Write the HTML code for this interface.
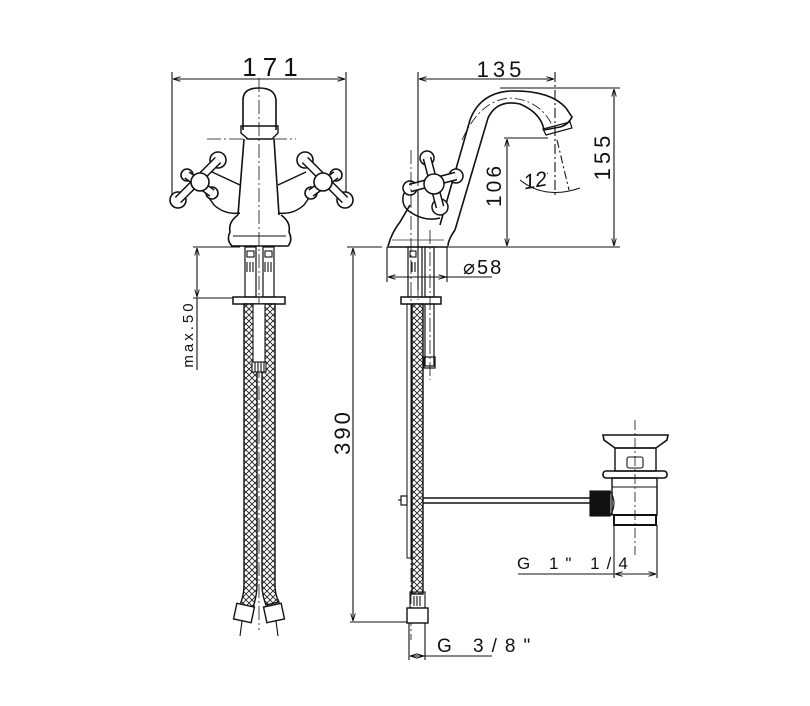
<!DOCTYPE html>
<html><head><meta charset="utf-8"><style>
html,body{margin:0;padding:0;background:#fff;}
svg{display:block;}
text{font-family:"Liberation Sans",sans-serif;fill:#111;}
</style></head><body>
<svg width="810" height="706" viewBox="0 0 810 706" xmlns="http://www.w3.org/2000/svg">
<defs>
<pattern id="br" width="6" height="6" patternUnits="userSpaceOnUse">
<rect width="6" height="6" fill="#fff"/>
<path d="M0 0L6 6M6 0L0 6" stroke="#222" stroke-width="0.9"/>
</pattern>
<marker id="a" viewBox="0 0 10 10" refX="10" refY="5" markerWidth="7" markerHeight="7" orient="auto-start-reverse"><path d="M0 2L10 5L0 8" fill="none" stroke="#111" stroke-width="1.2"/></marker>
<g id="crossL">
<g fill="#fff" stroke="#111" stroke-width="1.6">
<circle cx="18" cy="-22" r="8"/><circle cx="-22" cy="18" r="8"/>
<circle cx="-13" cy="-7" r="6"/><circle cx="12" cy="11" r="6"/>
</g>
<path d="M18 -22L-22 18M-13 -7L12 11" stroke="#111" stroke-width="9" fill="none"/>
<path d="M18 -22L-22 18M-13 -7L12 11" stroke="#fff" stroke-width="6" fill="none"/>
<circle cx="0" cy="0" r="9" fill="#fff" stroke="#111" stroke-width="1.6"/>
</g>
</defs>
<g fill="none" stroke="#111" stroke-width="1.1">
<!-- ===== LEFT VIEW ===== -->
<line x1="172" y1="72" x2="172" y2="200"/><line x1="346" y1="72" x2="346" y2="200"/>
<line x1="173" y1="79" x2="345" y2="79" marker-start="url(#a)" marker-end="url(#a)"/>
<line x1="259" y1="78" x2="259" y2="630" stroke-dasharray="14,3,2,3" stroke-width="0.8"/>
<line x1="207" y1="139" x2="296" y2="139" stroke-dasharray="14,3,2,3" stroke-width="0.8"/>
<path d="M243 130 L243 100 Q243 88 259 88 Q275 88 276 100 L276 130" stroke-width="1.6"/>
<path d="M241 126 L278 126 L278 133 L272 139 L248 139 L241 133 Z" stroke-width="1.4"/>
<path d="M244 139 L238 215 M274 139 L279 215" stroke-width="1.6"/>
<path d="M238 215 Q228 222 230 232 Q226 240 232 246 L288 246 Q293 240 289 232 Q291 222 281 215" stroke-width="1.6"/>
<line x1="233" y1="236" x2="286" y2="236"/>
<!-- handle arms -->
<path d="M240 185 L212 172 M214 205 Q225 215 240 213 M207 195 L214 205" stroke-width="1.5"/>
<path d="M278 185 L306 172 M304 205 Q293 215 278 213 M311 195 L304 205" stroke-width="1.5"/>
</g>
<use href="#crossL" transform="translate(200,182)"/>
<use href="#crossL" transform="translate(323,182) scale(-1,1)"/>
<g fill="none" stroke="#111" stroke-width="1.1">
<rect x="245" y="247" width="11" height="50" stroke-width="1.2"/>
<rect x="263" y="247" width="11" height="50" stroke-width="1.2"/>
<rect x="247" y="251" width="7" height="6"/><rect x="265" y="251" width="7" height="6"/>
<path d="M247 262v10M250 262v10M253 262v10M265 262v10M268 262v10M271 262v10"/>
<rect x="233" y="297" width="52" height="7" stroke-width="1.5"/>
<line x1="193" y1="247" x2="240" y2="247"/><line x1="193" y1="298" x2="233" y2="298"/>
<line x1="197" y1="248" x2="197" y2="297" marker-start="url(#a)" marker-end="url(#a)"/>
<line x1="197" y1="298" x2="197" y2="370"/>
<path d="M244 304 L244 585 Q244 595 240 605 L253 608 Q257 595 257 585 L257 304 Z" fill="url(#br)" stroke-width="1.4"/>
<path d="M262 304 L262 585 Q262 595 266 605 L279 602 Q275 595 275 585 L275 304 Z" fill="url(#br)" stroke-width="1.4"/>
<rect x="253" y="304" width="12" height="60" fill="#fff"/>
<rect x="252" y="362" width="14" height="10" fill="#fff"/>
<path d="M255 362v10M258 362v10M261 362v10M264 362v10"/>
<rect x="235" y="605" width="18" height="16" transform="rotate(12 244 613)" fill="#fff" stroke-width="1.4"/>
<rect x="265" y="605" width="18" height="16" transform="rotate(-12 274 613)" fill="#fff" stroke-width="1.4"/>
<line x1="242" y1="621" x2="240" y2="636"/><line x1="276" y1="621" x2="278" y2="636"/>

<!-- ===== RIGHT VIEW ===== -->
<line x1="418" y1="72" x2="418" y2="290"/><line x1="555" y1="72" x2="555" y2="195" stroke-dasharray="10,3,2,3"/>
<line x1="419" y1="79" x2="554" y2="79" marker-start="url(#a)" marker-end="url(#a)"/>
<line x1="500" y1="88" x2="620" y2="88"/>
<line x1="440" y1="247" x2="620" y2="247"/>
<line x1="614" y1="89" x2="614" y2="246" marker-start="url(#a)" marker-end="url(#a)"/>
<line x1="504" y1="138" x2="548" y2="138"/>
<line x1="507" y1="139" x2="507" y2="246" marker-start="url(#a)" marker-end="url(#a)"/>
<line x1="557" y1="140" x2="569" y2="190" stroke-dasharray="8,3,2,3"/>
<path d="M520 180 Q545 200 580 188" />
<path d="M440 225 L470 120 Q480 93 510 91 Q550 90 566 108 L572 117 Q568 125 560 127 L544 130 Q541 113 520 104 Q497 99 488 118 L455 230" stroke-width="1.6"/>
<path d="M462 140 Q480 100 510 98 Q540 100 552 125" stroke-dasharray="10,3,2,3" stroke-width="0.8"/>
<path d="M543 129 L570 122 L572 128 L546 135 Z" stroke-width="1.2"/>
<path d="M388 246 Q392 232 400 222 L410 205 M455 230 Q448 240 448 246" stroke-width="1.6"/>
<line x1="387" y1="247" x2="448" y2="247" stroke-width="1.6"/>
<line x1="392" y1="240" x2="444" y2="240" stroke="#666"/>
</g>
<!-- side handle -->
<g stroke="#111" stroke-width="1.5">
<path d="M404 193 Q400 205 410 212 Q425 222 440 218" fill="none"/>
<circle cx="427" cy="158" r="7" fill="#fff"/><circle cx="456" cy="176" r="7" fill="#fff"/>
<circle cx="410" cy="188" r="7" fill="#fff"/><circle cx="440" cy="207" r="8" fill="#fff"/>
<path d="M427 158L440 207M456 176L410 188" stroke-width="9" fill="none"/>
<path d="M427 158L440 207M456 176L410 188" stroke="#fff" stroke-width="6" fill="none"/>
<circle cx="434" cy="184" r="10" fill="#fff"/>
</g>
<g fill="none" stroke="#111" stroke-width="1.1">
<line x1="411" y1="150" x2="411" y2="640" stroke-dasharray="14,3,2,3" stroke-width="0.8"/>
<line x1="418" y1="150" x2="418" y2="300" stroke-dasharray="14,3,2,3" stroke-width="0.8"/>
<line x1="430" y1="230" x2="430" y2="380" stroke-dasharray="14,3,2,3" stroke-width="0.8"/>
<line x1="387" y1="247" x2="387" y2="282"/><line x1="447" y1="247" x2="447" y2="282"/>
<line x1="388" y1="277" x2="446" y2="277" marker-start="url(#a)" marker-end="url(#a)"/>
<line x1="446" y1="277" x2="492" y2="277"/>
<rect x="408" y="247" width="14" height="50" stroke-width="1.2"/>
<rect x="425" y="247" width="9" height="50" stroke-width="1.2"/>
<rect x="410" y="251" width="6" height="6"/>
<path d="M412 262v10M415 262v10M418 262v10"/>
<rect x="401" y="297" width="40" height="7" stroke-width="1.5"/>
<rect x="425" y="304" width="9" height="62" stroke-width="1.2"/>
<rect x="424" y="357" width="11" height="11" stroke-width="1.2"/>
<rect x="412" y="304" width="11" height="290" fill="url(#br)" stroke-width="1.4"/>
<rect x="407" y="304" width="4" height="254" stroke-width="1"/>
<rect x="410" y="592" width="15" height="16"/>
<path d="M414 596v10M417 596v10M420 596v10"/>
<rect x="407" y="608" width="21" height="15" fill="#fff" stroke-width="1.4"/>
<line x1="350" y1="622" x2="407" y2="622"/>
<line x1="347" y1="247" x2="382" y2="247"/>
<line x1="353" y1="248" x2="353" y2="621" marker-start="url(#a)" marker-end="url(#a)"/>
<line x1="409" y1="623" x2="409" y2="660"/><line x1="425" y1="623" x2="425" y2="660"/>
<line x1="410" y1="656" x2="424" y2="656" marker-start="url(#a)" marker-end="url(#a)"/>
<line x1="424" y1="656" x2="492" y2="656"/>
<rect x="401" y="496" width="6" height="9" stroke-width="1.2"/>
<line x1="398" y1="500" x2="401" y2="500"/>
<line x1="423" y1="498" x2="592" y2="498" stroke-width="1.5"/>
<line x1="423" y1="503" x2="592" y2="503" stroke-width="1.5"/>
<line x1="635" y1="420" x2="635" y2="555" stroke-dasharray="10,3,2,3" stroke-width="0.8"/>
<path d="M603 435 L668 435 L667 440 L656 448 L615 448 L604 440 Z" stroke-width="1.6"/>
<rect x="615" y="448" width="41" height="23" stroke-width="1.4"/>
<rect x="627" y="457" width="16" height="11" rx="2"/>
<rect x="603" y="471" width="64" height="7" rx="3" stroke-width="1.6"/>
<rect x="612" y="478" width="45" height="37" stroke-width="1.4"/>
<line x1="612" y1="487" x2="657" y2="487"/>
<rect x="614" y="515" width="42" height="10" stroke-width="2"/>
<rect x="590" y="491" width="20" height="25" fill="#111"/>
<path d="M610 491 Q618 503 610 516"/>
<line x1="614" y1="525" x2="614" y2="578"/><line x1="657" y1="525" x2="657" y2="578"/>
<line x1="615" y1="574" x2="656" y2="574" marker-start="url(#a)" marker-end="url(#a)"/>
<line x1="518" y1="574" x2="614" y2="574"/>
</g>
<text x="273" y="76" font-size="26" text-anchor="middle" letter-spacing="6">171</text>
<text x="501" y="77" font-size="22" text-anchor="middle" letter-spacing="4">135</text>
<text transform="translate(610,156) rotate(-90)" font-size="22" text-anchor="middle" letter-spacing="4">155</text>
<text transform="translate(501,185) rotate(-90)" font-size="21" text-anchor="middle" letter-spacing="3">106</text>
<text transform="translate(538,187) rotate(-10)" font-size="21" text-anchor="middle" font-style="italic">12<tspan font-size="10" dy="-9">·</tspan></text>
<text x="463" y="274" font-size="20" letter-spacing="2">⌀58</text>
<text transform="translate(193,334) rotate(-90)" font-size="15" text-anchor="middle" letter-spacing="3">max.50</text>
<text transform="translate(350,432) rotate(-90)" font-size="22" text-anchor="middle" letter-spacing="3">390</text>
<text x="517" y="569" font-size="17" letter-spacing="7">G 1" 1/4</text>
<text x="437" y="652" font-size="19" letter-spacing="8">G 3/8"</text>
</svg>
</body></html>
